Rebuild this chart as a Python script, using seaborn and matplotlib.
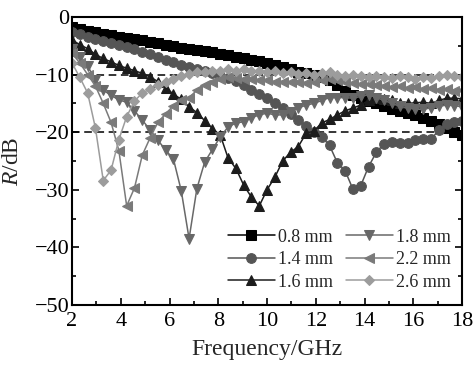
import numpy as np
import pandas as pd
import matplotlib
matplotlib.use("Agg")
import matplotlib.pyplot as plt
import seaborn as sns

# ---- data ----
freq = np.round(np.linspace(2, 18, 51), 2)  # GHz measurement grid

r_08 = [-1.8, -2.1, -2.4, -2.6, -2.9, -3.1, -3.4, -3.6, -3.8, -4.0,
        -4.3, -4.5, -4.8, -5.0, -5.3, -5.5, -5.7, -5.9, -6.1, -6.4,
        -6.6, -6.9, -7.1, -7.4, -7.7, -8.0, -8.3, -8.7, -9.1, -9.5,
        -9.7, -10.0, -10.5, -11.0, -11.8, -12.8, -13.5, -14.0, -14.6, -15.0,
        -15.5, -15.9, -16.3, -16.7, -17.1, -17.5, -18.0, -18.5, -19.2, -20.0,
        -20.5]
r_14 = [-2.6, -3.0, -3.4, -3.8, -4.1, -4.5, -4.8, -5.2, -5.6, -6.0,
        -6.4, -6.9, -7.4, -7.8, -8.3, -8.7, -9.1, -9.4, -9.8, -10.2,
        -10.6, -11.1, -11.8, -12.6, -13.3, -14.1, -15.0, -15.8, -16.8, -17.9,
        -19.0, -20.0, -20.8, -22.3, -25.3, -26.7, -29.9, -29.3, -26.0, -23.5,
        -22.0, -21.7, -21.8, -21.9, -21.3, -21.2, -21.2, -19.7, -18.5, -18.2,
        -18.1]
r_16 = [-4.0, -4.8, -5.5, -6.5, -7.2, -7.8, -8.4, -8.9, -9.3, -9.8,
        -10.4, -11.2, -12.3, -13.4, -14.3, -15.6, -16.6, -18.0, -19.4, -20.5,
        -24.5, -26.3, -29.2, -31.3, -32.8, -30.0, -27.8, -25.0, -23.5, -22.5,
        -20.2, -19.8, -18.4, -17.8, -17.0, -16.3, -15.8, -15.3, -14.5, -14.0,
        -14.2, -14.5, -15.0, -15.0, -14.9, -14.8, -15.0, -14.5, -14.1, -14.1,
        -14.2]
r_18 = [-5.5, -7.0, -8.5, -11.0, -12.7, -13.6, -14.4, -14.8, -16.3, -17.9,
        -19.6, -21.4, -23.1, -24.7, -30.2, -38.5, -29.8, -25.2, -23.0, -20.8,
        -19.1, -18.4, -18.2, -17.5, -17.0, -16.7, -17.0, -17.0, -16.5, -15.8,
        -15.3, -15.0, -14.5, -14.0, -14.0, -14.0, -14.1, -13.8, -13.5, -14.0,
        -14.5, -15.0, -15.5, -15.8, -16.0, -16.0, -15.8, -15.5, -15.3, -15.4,
        -15.6]
r_22 = [-6.3, -8.0, -10.0, -12.0, -15.0, -18.3, -23.2, -32.8, -29.7, -24.0,
        -21.0, -18.3, -16.8, -15.4, -14.4, -14.0, -12.7, -11.8, -11.3, -10.8,
        -10.5, -10.6, -10.8, -10.7, -10.9, -11.0, -11.2, -11.2, -11.3, -11.2,
        -11.4, -11.2, -11.0, -10.8, -11.0, -11.2, -11.5, -11.7, -11.6, -11.8,
        -11.9, -12.2, -12.0, -12.3, -12.1, -12.5, -12.3, -12.6, -12.5, -12.8,
        -12.7]
r_26 = [-8.0, -10.5, -13.2, -19.3, -28.4, -26.6, -21.3, -17.3, -14.6, -13.2,
        -12.5, -11.8, -11.3, -10.7, -10.3, -9.9, -9.6, -9.5, -9.4, -9.3,
        -9.0, -9.3, -9.1, -9.4, -9.3, -9.6, -9.4, -9.7, -9.6, -9.9,
        -9.8, -10.0, -9.8, -9.6, -10.1, -10.2, -10.0, -10.3, -10.5, -10.2,
        -10.4, -10.6, -10.3, -10.5, -10.7, -10.4, -10.6, -10.2, -10.0, -10.2,
        -10.5]

labels = ["0.8 mm", "1.4 mm", "1.6 mm", "1.8 mm", "2.2 mm", "2.6 mm"]
series = [r_08, r_14, r_16, r_18, r_22, r_26]
colors = ["#000000", "#555555", "#1c1c1c", "#686868", "#7a7a7a", "#9c9c9c"]
markers = ["s", "o", "^", "v", "<", "D"]
msizes = [6.5, 7, 6.5, 6.5, 6.5, 5.5]

sns.set_theme(style="ticks")
plt.rcParams["font.family"] = ["Liberation Serif", "DejaVu Serif"]
plt.rcParams["mathtext.fontset"] = "custom"
plt.rcParams["mathtext.it"] = "Liberation Serif:italic"
plt.rcParams["mathtext.rm"] = "Liberation Serif"

fig = plt.figure(figsize=(4.74, 3.70), dpi=100)
ax = fig.add_axes([0.152, 0.176, 0.823, 0.778])

for vals, lab, c, m, ms in zip(series, labels, colors, markers, msizes):
    df = pd.DataFrame({"f": freq, "R": vals})
    sns.lineplot(data=df, x="f", y="R", ax=ax, color=c, marker=m,
                 markersize=ms, markeredgecolor=c, markerfacecolor=c,
                 linewidth=1.1, label=lab)

ax.axhline(-10, color="black", linestyle=(0, (5, 3)), linewidth=1.1, zorder=0)
ax.axhline(-20, color="black", linestyle=(0, (5, 3)), linewidth=1.1, zorder=0)

ax.set_xlim(2, 18)
ax.set_ylim(-50, 0)
ax.set_xticks(range(2, 19, 2))
ax.set_xticks(range(3, 18, 2), minor=True)
ax.set_yticks(range(-50, 1, 10))
ax.set_yticks(range(-45, 0, 10), minor=True)
ax.tick_params(which="both", direction="in", right=True, top=False,
               labelsize=16, width=1.2, colors="black")
ax.tick_params(axis="y", pad=2)
ax.tick_params(axis="x", pad=5)
ax.tick_params(which="major", length=5)
ax.tick_params(which="minor", length=3)
for s in ax.spines.values():
    s.set_linewidth(1.5)
    s.set_color("black")

ax.set_xlabel("Frequency/GHz", fontsize=17, labelpad=6)
ax.set_ylabel("$R$/dB", fontsize=17)
ax.yaxis.set_label_coords(-0.125, 0.5)

ax.legend(ncol=2, loc="lower right", bbox_to_anchor=(1.0, 0.012), frameon=False,
          fontsize=13, handlelength=2.6, handletextpad=0.2, columnspacing=0.7,
          labelspacing=0.3, borderaxespad=0.2)

fig.savefig("out.png", dpi=100)
